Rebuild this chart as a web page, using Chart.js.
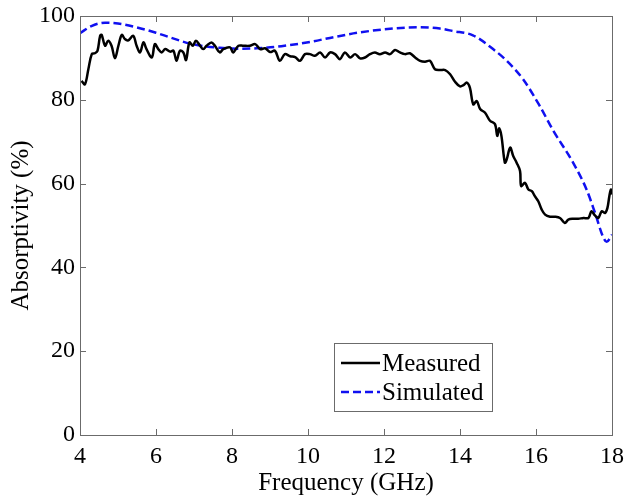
<!DOCTYPE html>
<html>
<head>
<meta charset="utf-8">
<script src="https://cdn.jsdelivr.net/npm/chart.js@4/dist/chart.umd.min.js"></script>
<style>
  html, body { margin: 0; padding: 0; background: #fff; }
  #wrap { width: 627px; height: 498px; }
</style>
</head>
<body>
<div id="wrap"><canvas id="c" width="627" height="498"></canvas></div>
<script>
// Measured absorptivity (%) versus frequency (GHz)
const freqMeasured = [4.04,4.13,4.22,4.31,4.39,4.46,4.53,4.57,4.66,4.74,4.83,4.92,5.01,5.10,5.18,5.27,5.40,5.49,5.58,5.67,5.75,5.89,5.97,6.06,6.15,6.24,6.37,6.46,6.54,6.63,6.72,6.79,6.88,6.97,7.05,7.16,7.24,7.33,7.46,7.55,7.68,7.77,7.95,8.03,8.17,8.30,8.47,8.61,8.74,8.87,9.00,9.13,9.26,9.39,9.53,9.66,9.79,9.92,10.05,10.18,10.32,10.45,10.58,10.71,10.84,10.97,11.11,11.24,11.37,11.50,11.63,11.76,11.89,12.03,12.16,12.29,12.42,12.55,12.68,12.82,12.95,13.08,13.21,13.34,13.47,13.61,13.74,13.87,14.00,14.09,14.18,14.26,14.35,14.44,14.53,14.66,14.79,14.92,14.98,15.03,15.09,15.18,15.23,15.32,15.40,15.49,15.58,15.61,15.71,15.80,15.89,15.97,16.06,16.15,16.24,16.37,16.50,16.63,16.76,16.85,16.98,17.11,17.25,17.38,17.46,17.55,17.64,17.73,17.82,17.88,17.93,17.97,18.00];
const absMeasured = [84.5,83.7,87.3,90.9,91.1,91.7,95.3,95.5,92.9,94.1,92.9,89.9,92.9,95.5,94.5,94.2,95.3,92.9,91.3,93.7,92.1,90.1,93.3,92.1,91.3,92.1,91.5,91.7,89.3,91.7,91.3,89.5,93.7,92.9,94.1,92.9,92.1,92.9,93.7,92.9,91.3,92.1,92.5,91.3,92.9,92.9,92.9,93.3,92.1,92.3,91.4,91.7,89.3,90.9,90.4,90.2,89.3,90.9,90.9,90.5,91.3,90.1,91.3,90.9,89.7,91.3,90.1,90.9,89.9,90.1,90.9,91.3,90.9,91.3,90.9,91.9,91.3,90.9,91.1,90.1,89.3,89.1,89.3,87.3,87.1,87.1,86.1,84.3,83.2,83.5,84.1,82.9,78.9,79.7,77.8,76.9,75.0,74.2,71.4,73.2,71.4,65.0,65.8,68.6,66.6,65.0,63.0,59.4,60.2,58.6,58.2,57.0,55.8,53.8,52.6,52.1,52.1,51.8,50.6,51.4,51.6,51.6,51.8,51.8,53.4,52.4,51.8,53.4,53.0,54.2,57.0,58.6,57.4];

// Simulated absorptivity (%) versus frequency (GHz)
const freqSimulated = [4.0,4.3,4.66,5.0,5.49,6.0,6.37,6.9,7.68,8.2,8.65,9.3,10.05,10.7,11.37,12.24,12.95,13.47,13.82,14.34,14.87,15.23,15.66,16.1,16.45,16.97,17.33,17.55,17.76,17.86,18.0];
const absSimulated = [95.9,97.6,98.4,98.2,97.3,96.0,94.9,93.4,92.4,92.2,92.3,92.8,93.8,95.0,96.1,97.0,97.3,97.0,96.4,95.4,92.1,89.3,84.9,78.5,72.7,65.1,58.6,53.1,47.4,46.1,47.8];

const xTicks = [4,6,8,10,12,14,16,18];
const yTicks = [0,20,40,60,80,100];
const seriesNames = ['Measured','Simulated'];

const FONT = '"Liberation Serif", "Times New Roman", serif';
const FRAME = '#6b6b6b';

const toPoints = (xs, ys) => xs.map((x, i) => ({ x: x, y: ys[i] }));

// Box around the plot with inward ticks on all four sides
const framePlugin = {
  id: 'frame',
  afterDatasetsDraw(chart) {
    const { ctx, chartArea: a, scales } = chart;
    const len = 6;
    ctx.save();
    ctx.strokeStyle = FRAME;
    ctx.lineWidth = 1;
    ctx.strokeRect(a.left + 0.5, a.top + 0.5, a.right - a.left, a.bottom - a.top);
    ctx.beginPath();
    xTicks.forEach(v => {
      const px = Math.round(scales.x.getPixelForValue(v)) + 0.5;
      ctx.moveTo(px, a.bottom); ctx.lineTo(px, a.bottom - len);
      ctx.moveTo(px, a.top); ctx.lineTo(px, a.top + len);
    });
    yTicks.forEach(v => {
      const py = Math.round(scales.y.getPixelForValue(v)) + 0.5;
      ctx.moveTo(a.left, py); ctx.lineTo(a.left + len, py);
      ctx.moveTo(a.right, py); ctx.lineTo(a.right - len, py);
    });
    ctx.stroke();
    ctx.restore();
  }
};

// Boxed legend in the lower middle of the plot
const legendPlugin = {
  id: 'boxLegend',
  afterDraw(chart) {
    const { ctx } = chart;
    const bx = 334, by = 343, bw = 158, bh = 68;
    ctx.save();
    ctx.fillStyle = '#fff';
    ctx.fillRect(bx, by, bw, bh);
    ctx.strokeStyle = FRAME;
    ctx.lineWidth = 1;
    ctx.strokeRect(bx + 0.5, by + 0.5, bw, bh);
    ctx.font = '25px ' + FONT;
    ctx.textBaseline = 'middle';
    chart.data.datasets.forEach((ds, i) => {
      const y = by + 20 + i * 29;
      ctx.beginPath();
      ctx.strokeStyle = ds.borderColor;
      ctx.lineWidth = ds.borderWidth;
      ctx.setLineDash(ds.borderDash || []);
      ctx.moveTo(341, y); ctx.lineTo(380, y);
      ctx.stroke();
      ctx.setLineDash([]);
      ctx.fillStyle = '#000';
      ctx.fillText(ds.label, 382, y + 1);
    });
    ctx.restore();
  }
};

new Chart(document.getElementById('c'), {
  type: 'line',
  data: {
    datasets: [
      {
        label: seriesNames[0],
        data: toPoints(freqMeasured, absMeasured),
        borderColor: '#000',
        borderWidth: 2.5,
        pointRadius: 0,
        tension: 0.35,
        fill: false
      },
      {
        label: seriesNames[1],
        data: toPoints(freqSimulated, absSimulated),
        borderColor: '#1010f0',
        borderWidth: 2.5,
        borderDash: [8, 4],
        pointRadius: 0,
        cubicInterpolationMode: 'monotone',
        fill: false
      }
    ]
  },
  options: {
    responsive: false,
    animation: false,
    devicePixelRatio: 1,
    layout: { padding: { left: 0, top: 16, right: 15, bottom: 0 } },
    plugins: { legend: { display: false }, tooltip: { enabled: false } },
    scales: {
      x: {
        type: 'linear',
        min: 4, max: 18,
        afterBuildTicks: s => { s.ticks = xTicks.map(v => ({ value: v })); },
        afterFit: s => { s.height = 63; s.paddingLeft = 0; s.paddingRight = 0; },
        grid: { display: false, drawTicks: false },
        border: { display: false },
        ticks: { color: '#000', padding: 7, font: { family: FONT, size: 24 } },
        title: { display: true, text: 'Frequency (GHz)', color: '#000', padding: { top: 7, bottom: 0 }, font: { family: FONT, size: 25 } }
      },
      y: {
        min: 0, max: 100,
        afterBuildTicks: s => { s.ticks = yTicks.map(v => ({ value: v })); },
        afterFit: s => { s.width = 80; s.paddingTop = 0; s.paddingBottom = 0; },
        grid: { display: false, drawTicks: false },
        border: { display: false },
        ticks: { color: '#000', padding: 5, font: { family: FONT, size: 24 } },
        title: { display: true, text: 'Absorptivity (%)', color: '#000', padding: { top: 6, bottom: 0 }, font: { family: FONT, size: 25 } }
      }
    }
  },
  plugins: [framePlugin, legendPlugin]
});
</script>
</body>
</html>
